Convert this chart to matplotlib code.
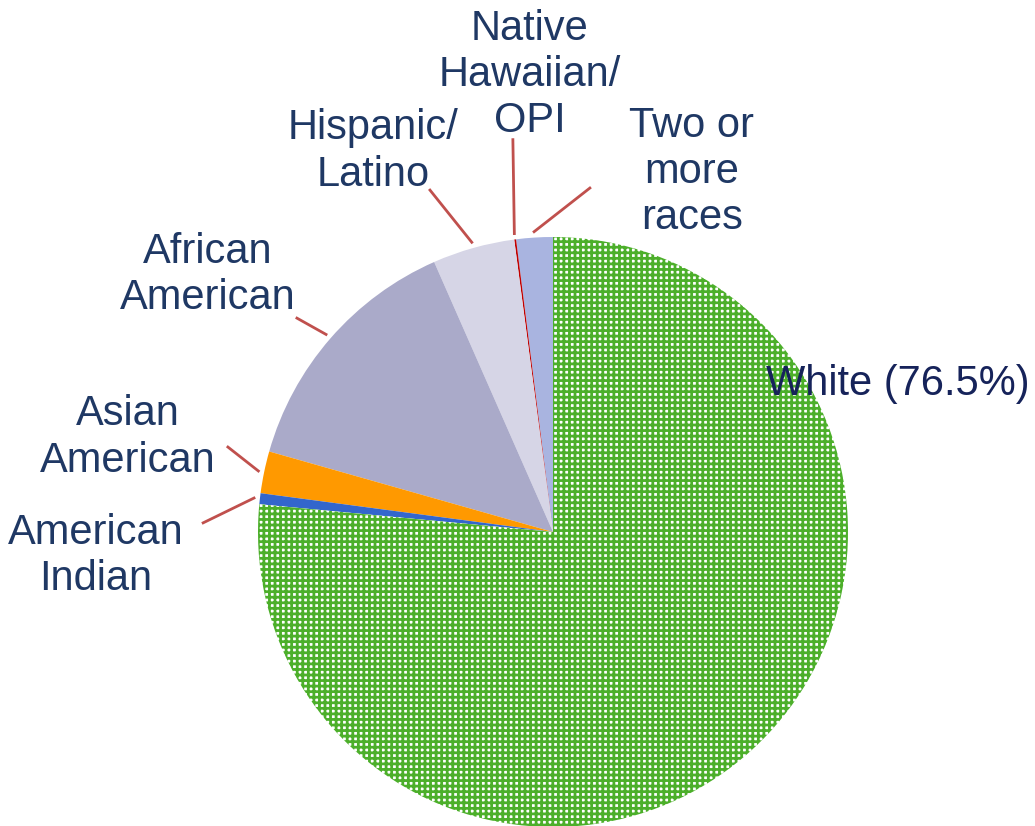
import numpy as np
import matplotlib
matplotlib.use("Agg")
import matplotlib.pyplot as plt

# race shares (%), counter-clockwise from 12 o'clock
labels = ["Two or\nmore\nraces", "Native\nHawaiian/\nOPI", "Hispanic/\nLatino",
          "African\nAmerican", "Asian\nAmerican", "American\nIndian", "White (76.5%)"]
shares = [2.0, 0.1, 4.5, 14.0, 2.3, 0.6, 76.5]
colors = ["#A9B4E0", "#C00000", "#D6D5E6", "#AAAAC9", "#FF9900", "#3366CC", "#4CAF2A"]

# label text positions and leader line outer ends (pie radius = 1)
text_pos = [(0.47, 1.22), (-0.08, 1.55), (-0.61, 1.29), (-1.17, 0.87),
            (-1.44, 0.32), (-1.55, -0.08), (1.17, 0.50)]
line_end = [(0.125, 1.166), (-0.136, 1.33), (-0.417, 1.159), (-0.868, 0.725),
            (-1.102, 0.288), (-1.186, 0.031), None]

plt.rcParams['font.family'] = ['Liberation Sans', 'DejaVu Sans']
plt.rcParams['hatch.linewidth'] = 2.0

fig = plt.figure(figsize=(10.35, 8.26), dpi=100)
ax = fig.add_axes([0, 0, 1, 1])

wedges, _ = ax.pie(shares, colors=colors, startangle=90, counterclock=True,
                   radius=1.0, wedgeprops=dict(linewidth=0))

# white slice: green dotted texture
w = wedges[-1]
w.set_facecolor("white")
w.set_edgecolor(colors[-1])
w.set_hatch("+++")

start = 90.0
for i, s in enumerate(shares):
    mid = np.radians(start + s * 3.6 / 2)
    start += s * 3.6
    col = "#1F3864" if i < 6 else "#16235A"
    ax.text(text_pos[i][0], text_pos[i][1], labels[i], ha="center", va="center",
            fontsize=30, color=col, linespacing=1.2)
    if line_end[i] is not None:
        x0, y0 = 1.02 * np.cos(mid), 1.02 * np.sin(mid)
        ax.plot([x0, line_end[i][0]], [y0, line_end[i][1]], color="#C0504D", lw=2)

ax.set_xlim(-553 / 295, (1035 - 553) / 295)
ax.set_ylim(-(826 - 532) / 295, 532 / 295)
ax.set_aspect("auto")
ax.axis("off")

fig.savefig("out.png", dpi=100)
